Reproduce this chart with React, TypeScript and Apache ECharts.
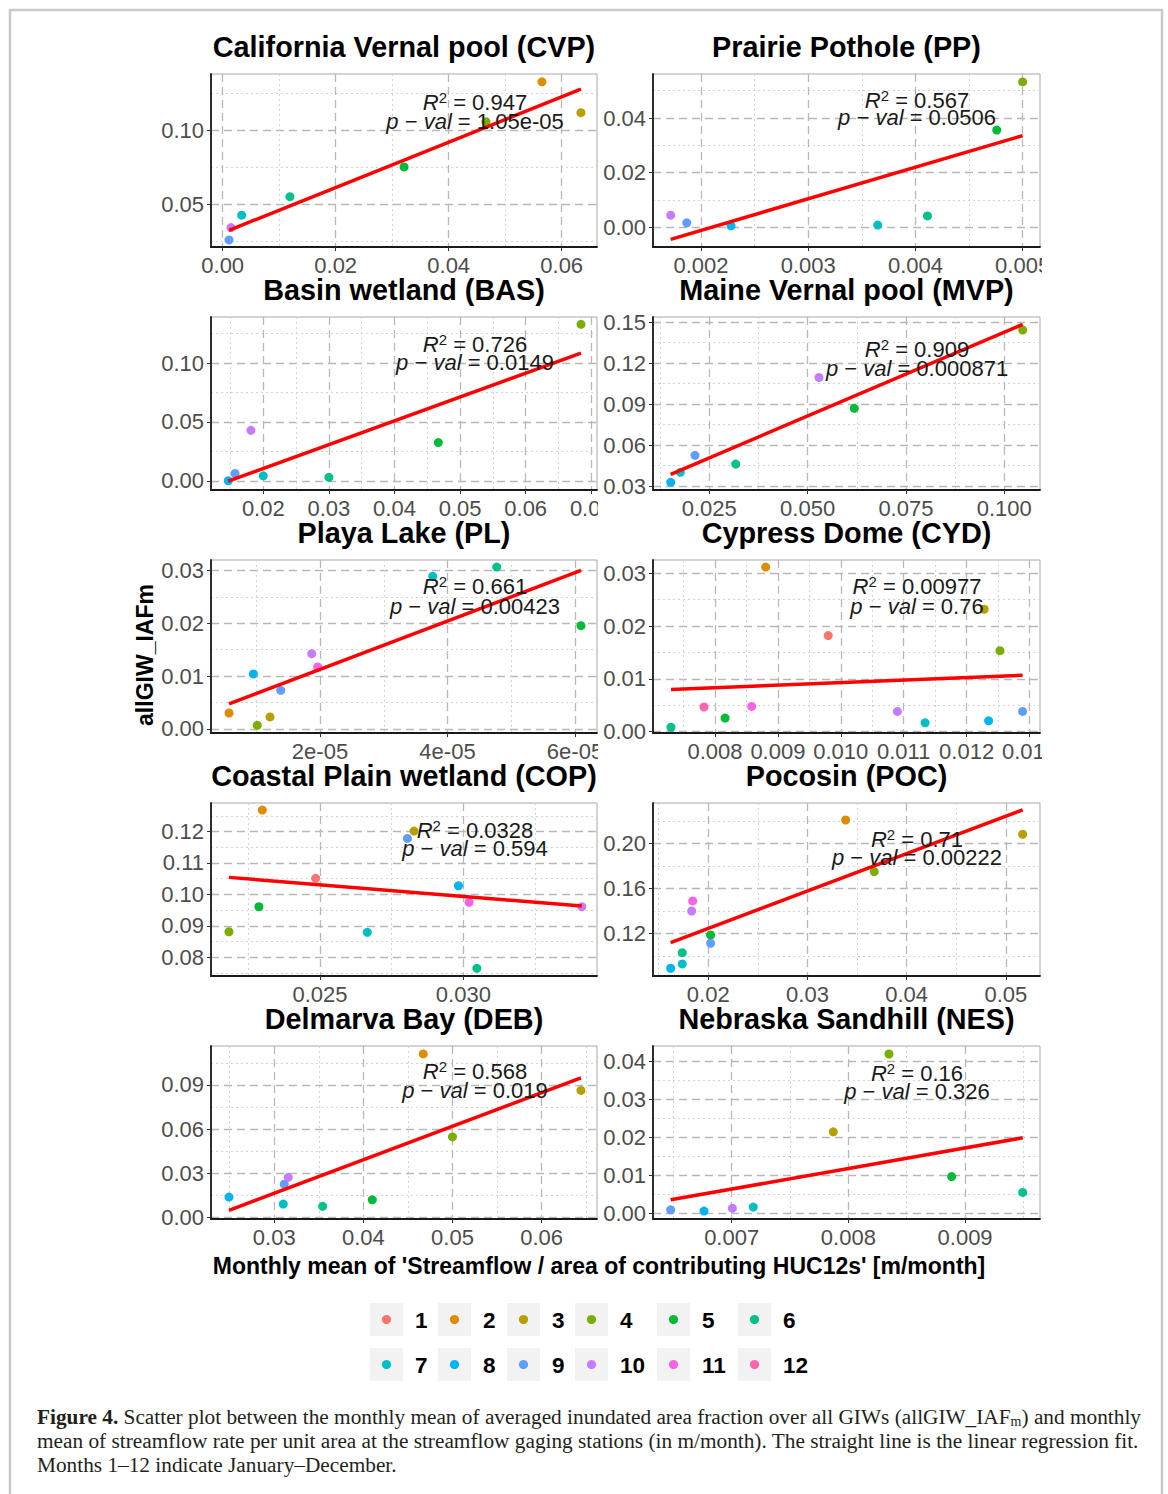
import React, { useEffect, useRef } from 'react';
import * as echarts from 'echarts';

const FONT = '"Liberation Sans", Arial, Helvetica, sans-serif';
const SERIF = '"Liberation Serif", "Times New Roman", Times, serif';

// ---- legend / months ----
const MONTHS = [1, 2, 3, 4, 5, 6, 7, 8, 9, 10, 11, 12];
const MONTH_COLORS = ['#F8766D', '#DE8C00', '#B79F00', '#7CAE00', '#00BA38', '#00C08B', '#00BFC4', '#00B4F0', '#619CFF', '#C77CFF', '#F564E3', '#FF64B0'];

// ---- California Vernal pool (CVP) ----
const cvpMonths = [2, 3, 4, 5, 6, 7, 9, 10];
const cvpX = [0.0565, 0.0634, 0.0466, 0.0321, 0.0119, 0.00336, 0.00112, 0.00147];
const cvpY = [0.1327, 0.1119, 0.1058, 0.0752, 0.0551, 0.0426, 0.0259, 0.0342];
const cvpFit = [[0.00112, 0.0324], [0.0634, 0.1277]];

// ---- Prairie Pothole (PP) ----
const ppMonths = [4, 5, 6, 7, 8, 9, 10];
const ppX = [0.005, 0.004759, 0.004112, 0.003648, 0.00228, 0.001867, 0.001717];
const ppY = [0.0532, 0.0356, 0.00422, 0.00084, 0.00058, 0.00167, 0.00447];
const ppFit = [[0.001717, -0.00436], [0.005, 0.03356]];

// ---- Basin wetland (BAS) ----
const basMonths = [4, 5, 6, 7, 8, 9, 10];
const basX = [0.06843, 0.04668, 0.03, 0.02, 0.01466, 0.01569, 0.01812];
const basY = [0.1329, 0.0324, 0.0029, 0.0042, 0.0, 0.00625, 0.0428];
const basFit = [[0.01466, -0.0003], [0.06843, 0.1084]];

// ---- Maine Vernal pool (MVP) ----
const mvpMonths = [4, 5, 6, 7, 8, 9, 10];
const mvpX = [0.1047, 0.06187, 0.03171, 0.01763, 0.01518, 0.02136, 0.05289];
const mvpY = [0.1441, 0.0869, 0.0461, 0.04, 0.0327, 0.0525, 0.1095];
const mvpFit = [[0.01518, 0.0386], [0.1047, 0.1483]];

// ---- Playa Lake (PL) ----
const plMonths = [2, 3, 4, 5, 6, 7, 8, 9, 10, 11];
const plX = [5.73e-6, 1.216e-5, 1.016e-5, 6.094e-5, 4.772e-5, 3.768e-5, 9.54e-6, 1.384e-5, 1.87e-5, 1.964e-5];
const plY = [0.00302, 0.00227, 0.0007, 0.01953, 0.03062, 0.02886, 0.0104, 0.00731, 0.01424, 0.01172];
const plFit = [[5.73e-6, 0.00473], [6.094e-5, 0.03]];

// ---- Cypress Dome (CYD) ----
const cydMonths = [1, 2, 3, 4, 5, 6, 7, 8, 9, 10, 11, 12];
const cydX = [0.0098, 0.008806, 0.01228, 0.01253, 0.00816, 0.0073, 0.01134, 0.01235, 0.01289, 0.0109, 0.008583, 0.007825];
const cydY = [0.0182, 0.03117, 0.02318, 0.01533, 0.00257, 0.00084, 0.00167, 0.00205, 0.00383, 0.00383, 0.00479, 0.00467];
const cydFit = [[0.0073, 0.00799], [0.01289, 0.01067]];

// ---- Coastal Plain wetland (COP) ----
const copMonths = [1, 2, 3, 4, 5, 6, 7, 8, 9, 10, 11];
const copX = [0.02485, 0.02299, 0.02828, 0.021826, 0.02287, 0.03047, 0.02665, 0.02983, 0.02805, 0.03413, 0.0302];
const copY = [0.1051, 0.12685, 0.12016, 0.0881, 0.09605, 0.07643, 0.0879, 0.10274, 0.11783, 0.09605, 0.09745];
const copFit = [[0.021826, 0.10541], [0.03413, 0.09627]];

// ---- Pocosin (POC) ----
const pocMonths = [2, 3, 4, 5, 6, 7, 8, 9, 10, 11];
const pocX = [0.03385, 0.05169, 0.03673, 0.02024, 0.01738, 0.01738, 0.01621, 0.02024, 0.01833, 0.01843];
const pocY = [0.2207, 0.208, 0.1748, 0.1185, 0.10276, 0.0927, 0.0889, 0.1111, 0.1398, 0.1487];
const pocFit = [[0.01621, 0.1117], [0.05169, 0.2296]];

// ---- Delmarva Bay (DEB) ----
const debMonths = [2, 3, 4, 5, 6, 7, 8, 9, 10];
const debX = [0.04672, 0.06442, 0.05, 0.041, 0.03543, 0.03101, 0.02492, 0.03112, 0.03157];
const debY = [0.111, 0.0862, 0.0547, 0.01189, 0.00743, 0.00899, 0.01372, 0.0225, 0.0272];
const debFit = [[0.02492, 0.00473], [0.06442, 0.0948]];

// ---- Nebraska Sandhill (NES) ----
const nesMonths = [3, 4, 5, 6, 7, 8, 9, 10];
const nesX = [0.007871, 0.008348, 0.008885, 0.009494, 0.007185, 0.006763, 0.006477, 0.007006];
const nesY = [0.02149, 0.0419, 0.00975, 0.00558, 0.00175, 0.0007, 0.00104, 0.00141];
const nesFit = [[0.006477, 0.00365], [0.009494, 0.01992]];

// ---- fit statistics ----
const R2_LABELS = ['0.947', '0.567', '0.726', '0.909', '0.661', '0.00977', '0.0328', '0.71', '0.568', '0.16'];
const PVAL_LABELS = ['1.05e-05', '0.0506', '0.0149', '0.000871', '0.00423', '0.76', '0.594', '0.00222', '0.019', '0.326'];

const TITLES = [
  'California Vernal pool (CVP)', 'Prairie Pothole (PP)',
  'Basin wetland (BAS)', 'Maine Vernal pool (MVP)',
  'Playa Lake (PL)', 'Cypress Dome (CYD)',
  'Coastal Plain wetland (COP)', 'Pocosin (POC)',
  'Delmarva Bay (DEB)', 'Nebraska Sandhill (NES)',
];

const X_AXIS_NAME = "Monthly mean of 'Streamflow / area of contributing HUC12s' [m/month]";
const Y_AXIS_NAME = 'allGIW_IAFm';

type Fmt = (v: number) => string;
const fixed = (d: number): Fmt => (v: number) => v.toFixed(d);
const sci: Fmt = (v: number) => v.toExponential(0).replace(/e([+-])(\d)$/, 'e$10$2');

interface Panel {
  months: number[]; xs: number[]; ys: number[]; fit: number[][];
  xRange: [number, number]; yRange: [number, number];
  xStep: number; yStep: number; xFmt: Fmt; yFmt: Fmt;
  annY: [number, number];
}

const PANELS: Panel[] = [
  { months: cvpMonths, xs: cvpX, ys: cvpY, fit: cvpFit, xRange: [-0.00207, 0.06625], yRange: [0.0211, 0.138], xStep: 0.02, yStep: 0.05, xFmt: fixed(2), yFmt: fixed(2), annY: [28, 47] },
  { months: ppMonths, xs: ppX, ys: ppY, fit: ppFit, xRange: [0.001552, 0.005162], yRange: [-0.00716, 0.0561], xStep: 0.001, yStep: 0.02, xFmt: fixed(3), yFmt: fixed(2), annY: [26, 43] },
  { months: basMonths, xs: basX, ys: basY, fit: basFit, xRange: [0.01203, 0.07087], yRange: [-0.00785, 0.1391], xStep: 0.01, yStep: 0.05, xFmt: fixed(2), yFmt: fixed(2), annY: [27, 45] },
  { months: mvpMonths, xs: mvpX, ys: mvpY, fit: mvpFit, xRange: [0.01068, 0.1091], yRange: [0.0271, 0.1537], xStep: 0.025, yStep: 0.03, xFmt: fixed(3), yFmt: fixed(2), annY: [32, 51] },
  { months: plMonths, xs: plX, ys: plY, fit: plFit, xRange: [2.9e-6, 6.345e-5], yRange: [-0.00076, 0.03195], xStep: 2e-5, yStep: 0.01, xFmt: sci, yFmt: fixed(2), annY: [26, 46] },
  { months: cydMonths, xs: cydX, ys: cydY, fit: cydFit, xRange: [0.007014, 0.013167], yRange: [-0.00025, 0.0325], xStep: 0.001, yStep: 0.01, xFmt: fixed(3), yFmt: fixed(2), annY: [26, 46] },
  { months: copMonths, xs: copX, ys: copY, fit: copFit, xRange: [0.0212, 0.03466], yRange: [0.074, 0.1291], xStep: 0.005, yStep: 0.01, xFmt: fixed(3), yFmt: fixed(2), annY: [27, 45] },
  { months: pocMonths, xs: pocX, ys: pocY, fit: pocFit, xRange: [0.01443, 0.05344], yRange: [0.082, 0.2358], xStep: 0.01, yStep: 0.04, xFmt: fixed(2), yFmt: fixed(2), annY: [36, 54] },
  { months: debMonths, xs: debX, ys: debY, fit: debFit, xRange: [0.0229, 0.06622], yRange: [-0.00115, 0.1164], xStep: 0.01, yStep: 0.03, xFmt: fixed(2), yFmt: fixed(2), annY: [25, 44] },
  { months: nesMonths, xs: nesX, ys: nesY, fit: nesFit, xRange: [0.006326, 0.009642], yRange: [-0.00138, 0.044], xStep: 0.001, yStep: 0.01, xFmt: fixed(3), yFmt: fixed(2), annY: [27, 45] },
];

// ---- layout ----
const COL_LEFT = [130, 598];
const COL_WIDTH = [468, 444];
const GRID_LEFT = [81, 55];
const GRID_WIDTH = [386, 387];
const ROW_TOP0 = 28;
const ROW_STEP = 243;
const PANEL_H = 258;
const GRID_TOP = 46;
const GRID_H = 173;
const ANN_DX = 264;

const LEGEND_BOX_LEFT = [370, 438, 507, 575, 657, 738];
const LEGEND_ROW_TOP = [1303, 1348];
const LEGEND_BOX = 33;

function makeAxis(range: [number, number], step: number, fmt: Fmt, isX: boolean) {
  return {
    type: 'value',
    min: range[0],
    max: range[1],
    minInterval: step,
    maxInterval: step,
    splitNumber: Math.max(1, Math.round((range[1] - range[0]) / step)),
    axisLine: { show: true, onZero: false, lineStyle: { color: '#1A1A1A', width: 1.8 } },
    axisTick: { show: true, length: 4, lineStyle: { color: '#333333', width: 1 } },
    axisLabel: {
      show: true, color: '#4D4D4D', fontSize: 22, fontFamily: FONT, lineHeight: 18,
      margin: isX ? 9 : 7, showMinLabel: false, showMaxLabel: false, formatter: fmt,
    },
    splitLine: { show: true, showMinLine: false, showMaxLine: false, lineStyle: { color: '#B8B8B8', width: 1.3, type: [8, 5] } },
    minorTick: { show: false, splitNumber: 2 },
    minorSplitLine: { show: true, lineStyle: { color: '#D4D4D4', width: 1, type: [2, 3] } },
  };
}

function panelOption(p: Panel, idx: number) {
  const col = idx % 2;
  const gl = GRID_LEFT[col];
  const gw = GRID_WIDTH[col];
  const txt = '#1A1A1A';
  const points = p.months.map((m, i) => ({
    value: [p.xs[i], p.ys[i]],
    itemStyle: { color: MONTH_COLORS[MONTHS.indexOf(m)] },
  }));
  return {
    animation: false,
    textStyle: { fontFamily: FONT },
    grid: {
      left: gl, top: GRID_TOP, width: gw, height: GRID_H,
      show: true, borderColor: '#A8A8A8', borderWidth: 1, backgroundColor: 'transparent',
      containLabel: false, outerBoundsMode: 'none',
    },
    xAxis: makeAxis(p.xRange, p.xStep, p.xFmt, true),
    yAxis: makeAxis(p.yRange, p.yStep, p.yFmt, false),
    series: [
      { type: 'scatter', symbolSize: 9, silent: true, z: 2, data: points, itemStyle: { opacity: 1 } },
      { type: 'line', data: p.fit, symbol: 'none', silent: true, z: 3, lineStyle: { color: '#FF0000', width: 3.5 } },
    ],
    graphic: [
      {
        type: 'text', x: gl + gw / 2, y: 19, silent: true,
        style: { text: TITLES[idx], fontSize: 28.8, fontWeight: 'bold', fontFamily: FONT, lineHeight: 24, fill: '#000000', align: 'center', verticalAlign: 'middle' },
      },
      {
        type: 'text', x: gl + ANN_DX, y: GRID_TOP + p.annY[0], z: 100, silent: true,
        style: {
          text: '{it|R}{sup|2}{nm| = ' + R2_LABELS[idx] + '}',
          fontSize: 22, fontFamily: FONT, fill: txt, lineHeight: 24, align: 'center', verticalAlign: 'middle',
          rich: {
            it: { fontStyle: 'italic', fontSize: 22, fontFamily: FONT, fill: txt, lineHeight: 24 },
            sup: { fontSize: 15, fontFamily: FONT, fill: txt, lineHeight: 12, verticalAlign: 'top' },
            nm: { fontSize: 22, fontFamily: FONT, fill: txt, lineHeight: 24 },
          },
        },
      },
      {
        type: 'text', x: gl + ANN_DX, y: GRID_TOP + p.annY[1], z: 100, silent: true,
        style: {
          text: '{it|p}{nm| \u2212 }{it|val}{nm| = ' + PVAL_LABELS[idx] + '}',
          fontSize: 22, fontFamily: FONT, fill: txt, lineHeight: 24, align: 'center', verticalAlign: 'middle',
          rich: {
            it: { fontStyle: 'italic', fontSize: 22, fontFamily: FONT, fill: txt, lineHeight: 24 },
            nm: { fontSize: 22, fontFamily: FONT, fill: txt, lineHeight: 24 },
          },
        },
      },
    ],
  };
}

function mainOption() {
  const g: any[] = [];
  g.push({ type: 'rect', shape: { x: 10, y: 10, width: 1152, height: 1500 }, silent: true, style: { fill: 'none', stroke: '#CACACA', lineWidth: 2.5 } });
  g.push({
    type: 'text', x: 145, y: 655, rotation: Math.PI / 2, silent: true,
    style: { text: Y_AXIS_NAME, fontSize: 23, fontWeight: 'bold', fontFamily: FONT, fill: '#000000', align: 'center', verticalAlign: 'middle' },
  });
  g.push({
    type: 'text', x: 599, y: 1266, silent: true,
    style: { text: X_AXIS_NAME, fontSize: 23, fontWeight: 'bold', fontFamily: FONT, lineHeight: 20, fill: '#000000', align: 'center', verticalAlign: 'middle' },
  });
  MONTHS.forEach((m, i) => {
    const row = Math.floor(i / 6);
    const col = i % 6;
    const bx = LEGEND_BOX_LEFT[col];
    const by = LEGEND_ROW_TOP[row];
    g.push({ type: 'rect', shape: { x: bx, y: by, width: LEGEND_BOX, height: LEGEND_BOX }, silent: true, style: { fill: '#F2F2F2' } });
    g.push({ type: 'circle', shape: { cx: bx + LEGEND_BOX / 2, cy: by + LEGEND_BOX / 2, r: 4.6 }, silent: true, style: { fill: MONTH_COLORS[i] } });
    g.push({
      type: 'text', x: bx + LEGEND_BOX + 12, y: by + LEGEND_BOX / 2 + 1, silent: true,
      style: { text: String(m), fontSize: 22.5, fontWeight: 'bold', fontFamily: FONT, fill: '#000000', align: 'left', verticalAlign: 'middle' },
    });
  });
  const capFill = '#231F20';
  const capSize = 21.3;
  const capRich = {
    b: { fontWeight: 'bold', fontSize: capSize, fontFamily: SERIF, fill: capFill, lineHeight: 22 },
    sub: { fontSize: 14, fontFamily: SERIF, fill: capFill, lineHeight: 12, verticalAlign: 'bottom' },
  };
  const capLines = [
    '{b|Figure 4.} Scatter plot between the monthly mean of averaged inundated area fraction over all GIWs (allGIW_IAF{sub|m}) and monthly',
    'mean of streamflow rate per unit area at the streamflow gaging stations (in m/month). The straight line is the linear regression fit.',
    'Months 1\u201312 indicate January\u2013December.',
  ];
  const capY = [1417, 1441, 1465];
  capLines.forEach((t, i) => {
    g.push({
      type: 'text', x: 37, y: capY[i], silent: true,
      style: { text: t, fontSize: capSize, fontFamily: SERIF, fill: capFill, lineHeight: 22, align: 'left', verticalAlign: 'middle', rich: capRich },
    });
  });
  return { animation: false, graphic: g };
}

export default function App() {
  const mainRef = useRef<HTMLDivElement>(null);
  const panelRefs = useRef<(HTMLDivElement | null)[]>([]);

  useEffect(() => {
    const charts: echarts.ECharts[] = [];
    if (mainRef.current) {
      const mc = echarts.init(mainRef.current, null, { renderer: 'svg' });
      mc.setOption(mainOption() as any);
      charts.push(mc);
    }
    PANELS.forEach((p, i) => {
      const el = panelRefs.current[i];
      if (!el) return;
      const c = echarts.init(el, null, { renderer: 'svg' });
      c.setOption(panelOption(p, i) as any);
      charts.push(c);
    });
    return () => { charts.forEach((c) => c.dispose()); };
  }, []);

  return (
    <div style={{ position: 'absolute', left: 0, top: 0, width: 1168, height: 1494, background: '#ffffff', overflow: 'hidden' }}>
      <div ref={mainRef} style={{ position: 'absolute', left: 0, top: 0, width: 1168, height: 1494 }} />
      {PANELS.map((p, i) => {
        const col = i % 2;
        const row = Math.floor(i / 2);
        return (
          <div
            key={i}
            ref={(el) => { panelRefs.current[i] = el; }}
            style={{ position: 'absolute', left: COL_LEFT[col], top: ROW_TOP0 + row * ROW_STEP, width: COL_WIDTH[col], height: PANEL_H, overflow: 'hidden' }}
          />
        );
      })}
    </div>
  );
}
